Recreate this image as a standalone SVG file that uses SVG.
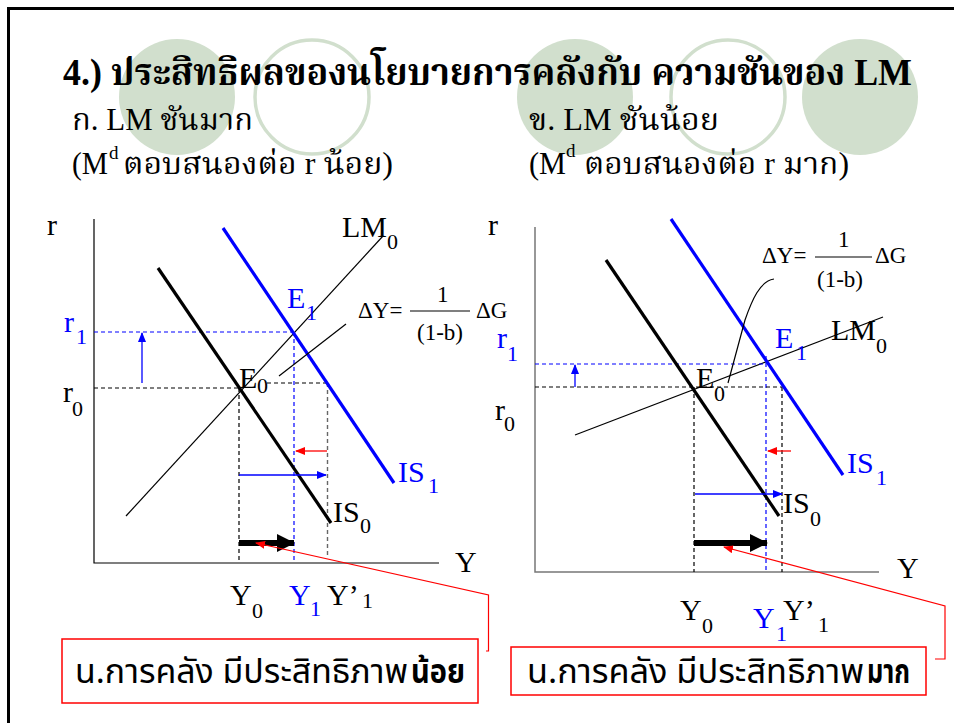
<svg xmlns="http://www.w3.org/2000/svg" width="954" height="723" viewBox="0 0 954 723">
<style>
.th{font-family:"Liberation Serif","Noto Serif Thai","Noto Sans Thai","Garuda","Loma",serif;}
.ths{font-family:"Noto Sans Thai","Loma","Garuda","Tahoma","DejaVu Sans",sans-serif;}
.lb{font-family:"Liberation Serif","Times New Roman",serif;font-size:30px;fill:#000;}
.sb{font-family:"Liberation Serif","Times New Roman",serif;font-size:22px;fill:#000;}
.fm{font-family:"Liberation Serif","Times New Roman",serif;font-size:23px;fill:#000;}
.blue{fill:#0000ff;}
.thin{stroke:#000;stroke-width:1.2;fill:none;}
.thick{stroke-width:3.2;fill:none;}
.dk{stroke:#000;stroke-width:1.2;stroke-dasharray:4 3;fill:none;}
.dg{stroke:#666;stroke-width:1.4;stroke-dasharray:4 3;fill:none;}
.db{stroke:#0000ff;stroke-width:1.2;stroke-dasharray:4 3;fill:none;}
.circ{fill:#d1dfcd;}
.ring{fill:none;stroke:#d1dfcd;stroke-width:3.5;}
</style>
<defs>
<marker id="ab" markerUnits="userSpaceOnUse" markerWidth="10" markerHeight="8" refX="9" refY="4" orient="auto"><path d="M0,0 L10,4 L0,8 z" fill="#0000ff"/></marker>
<marker id="ar" markerUnits="userSpaceOnUse" markerWidth="10" markerHeight="8" refX="9" refY="4" orient="auto"><path d="M0,0 L10,4 L0,8 z" fill="#ff0000"/></marker>
<marker id="ak" markerUnits="userSpaceOnUse" markerWidth="18" markerHeight="18" refX="17" refY="9" orient="auto"><path d="M0,0 L18,9 L0,18 z" fill="#000"/></marker>
</defs>
<rect width="954" height="723" fill="#fff"/>
<path d="M8.5,723 V8.5 H954" fill="none" stroke="#000" stroke-width="3"/>

<g id="decor">
<circle class="circ" cx="177" cy="97" r="58"/>
<circle class="ring" cx="312" cy="97" r="57"/>
<circle class="circ" cx="575" cy="97" r="58"/>
<circle class="ring" cx="728" cy="97" r="57"/>
<circle class="circ" cx="860" cy="97" r="58"/>
</g>

<g id="title">
<text class="th" x="63" y="85" font-size="37" font-weight="bold" textLength="849" lengthAdjust="spacingAndGlyphs">4.) ประสิทธิผลของนโยบายการคลังกับ ความชันของ LM</text>
<text class="th" x="72" y="130" font-size="31" textLength="181" lengthAdjust="spacingAndGlyphs">ก. LM ชันมาก</text>
<text class="th" x="72" y="174" font-size="31" textLength="36" lengthAdjust="spacingAndGlyphs">(M</text>
<text class="th" x="109" y="159" font-size="19">d</text>
<text class="th" x="123" y="174" font-size="31" textLength="270" lengthAdjust="spacingAndGlyphs">ตอบสนองต่อ r น้อย)</text>
<text class="th" x="529" y="130" font-size="31" textLength="190" lengthAdjust="spacingAndGlyphs">ข. LM ชันน้อย</text>
<text class="th" x="529" y="174" font-size="31" textLength="37" lengthAdjust="spacingAndGlyphs">(M</text>
<text class="th" x="566" y="157" font-size="19">d</text>
<text class="th" x="584" y="174" font-size="31" textLength="265" lengthAdjust="spacingAndGlyphs">ตอบสนองต่อ r มาก)</text>
</g>

<g id="connectors">
<!-- left panel -->
<path class="thin" d="M94,219 V563 H439" stroke-width="1.5"/>
<path class="thin" d="M126,516 L383,236"/>
<path class="db" d="M94,332 H294 M294,332 V563"/>
<path class="dk" d="M94,388 H239 M239,388 V563 M267,383 H327"/>
<path class="dg" d="M327.5,383 V555"/>
<path d="M158,268 L331,523" stroke="#000" class="thick"/>
<path d="M223,228 L394,483" stroke="#0000ff" class="thick"/>
<path class="thin" d="M279,376 L346,324"/>
<path d="M142,383 V333" stroke="#0000ff" stroke-width="1.3" marker-end="url(#ab)"/>
<path d="M327,451 H296" stroke="#ff0000" stroke-width="1.3" marker-end="url(#ar)"/>
<path d="M239,475 H326" stroke="#0000ff" stroke-width="1.3" marker-end="url(#ab)"/>
<path d="M239,543 H294" stroke="#000" stroke-width="6" marker-end="url(#ak)"/>
<path d="M486,651 H488.5 V595 L256,543" stroke="#ff0000" stroke-width="1.2" fill="none" marker-end="url(#ar)"/>
<!-- right panel -->
<path d="M535,227 V572 H879" fill="none" stroke="#777" stroke-width="1.5"/>
<path class="thin" d="M575,435 L883,317"/>
<path class="db" d="M535,364 H766 M766,356 V572"/>
<path class="dk" d="M535,387 H782 M694,387 V572 M782,387 V572"/>
<path d="M606,260 L779,516" stroke="#000" class="thick"/>
<path d="M671,219 L843,475" stroke="#0000ff" class="thick"/>
<path class="thin" d="M774,279 C760,281 752,300 745,320 L728,383"/>
<path d="M575,387 V365" stroke="#0000ff" stroke-width="1.3" marker-end="url(#ab)"/>
<path d="M791,451 H768" stroke="#ff0000" stroke-width="1.3" marker-end="url(#ar)"/>
<path d="M695,494 H782" stroke="#0000ff" stroke-width="1.3" marker-end="url(#ab)"/>
<path d="M694,543 H767" stroke="#000" stroke-width="6" marker-end="url(#ak)"/>
<path d="M935,659 H945 V606 L724,547" stroke="#ff0000" stroke-width="1.2" fill="none" marker-end="url(#ar)"/>
</g>

<g id="left-labels">
<text class="lb" x="47" y="235">r</text>
<text class="lb" x="342" y="237">LM</text><text class="sb" x="387" y="249">0</text>
<text class="lb blue" x="287" y="308">E</text><text class="sb blue" x="306" y="320">1</text>
<text class="fm" x="358" y="318">ΔY=</text>
<text class="fm" x="437" y="302">1</text>
<path d="M410,311 H470" stroke="#000" stroke-width="1.2"/>
<text class="fm" x="417" y="340">(1-b)</text>
<text class="fm" x="476" y="318">ΔG</text>
<text class="lb blue" x="64" y="332">r</text><text class="sb blue" x="76" y="344">1</text>
<text class="lb" x="63" y="402">r</text><text class="sb" x="72" y="416">0</text>
<text class="lb" x="239" y="388">E</text><text class="sb" x="257" y="393">0</text>
<text class="lb blue" x="398" y="482">IS</text><text class="sb blue" x="428" y="493">1</text>
<text class="lb" x="333" y="522">IS</text><text class="sb" x="360" y="533">0</text>
<text class="lb" x="455" y="572">Y</text>
<text class="lb" x="230" y="605">Y</text><text class="sb" x="252" y="618">0</text>
<text class="lb blue" x="289" y="605">Y</text><text class="sb blue" x="310" y="616">1</text>
<text class="lb" x="327" y="605">Y’</text><text class="sb" x="362" y="608">1</text>
</g>

<g id="right-labels">
<text class="lb" x="488" y="235">r</text>
<text class="lb" x="831" y="340">LM</text><text class="sb" x="876" y="353">0</text>
<text class="lb blue" x="775" y="348">E</text><text class="sb blue" x="796" y="360">1</text>
<text class="fm" x="762" y="263">ΔY=</text>
<text class="fm" x="838" y="247">1</text>
<path d="M815,257 H872" stroke="#000" stroke-width="1.2"/>
<text class="fm" x="817" y="287">(1-b)</text>
<text class="fm" x="875" y="263">ΔG</text>
<text class="lb blue" x="497" y="348">r</text><text class="sb blue" x="507" y="361">1</text>
<text class="lb" x="495" y="420">r</text><text class="sb" x="504" y="431">0</text>
<text class="lb" x="696" y="388">E</text><text class="sb" x="714" y="401">0</text>
<text class="lb blue" x="847" y="473">IS</text><text class="sb blue" x="876" y="485">1</text>
<text class="lb" x="783" y="513">IS</text><text class="sb" x="810" y="526">0</text>
<text class="lb" x="897" y="578">Y</text>
<text class="lb" x="680" y="620">Y</text><text class="sb" x="702" y="633">0</text>
<text class="lb blue" x="753" y="628">Y</text><text class="sb blue" x="776" y="641">1</text>
<text class="lb" x="783" y="620">Y’</text><text class="sb" x="818" y="632">1</text>
</g>

<g id="box-left">
<rect x="62" y="639" width="416" height="64" fill="none" stroke="#ff0000" stroke-width="1.5"/>
<text class="ths" x="75" y="683" font-size="33" textLength="333" lengthAdjust="spacingAndGlyphs">น.การคลัง มีประสิทธิภาพ</text>
<text class="ths" x="411" y="683" font-size="33" font-weight="bold" textLength="54" lengthAdjust="spacingAndGlyphs">น้อย</text>
</g>
<g id="box-right">
<rect x="511" y="647" width="415" height="48" fill="none" stroke="#ff0000" stroke-width="1.5"/>
<text class="ths" x="527" y="683" font-size="33" textLength="337" lengthAdjust="spacingAndGlyphs">น.การคลัง มีประสิทธิภาพ</text>
<text class="ths" x="867" y="683" font-size="33" font-weight="bold" textLength="43" lengthAdjust="spacingAndGlyphs">มาก</text>
</g>
</svg>
